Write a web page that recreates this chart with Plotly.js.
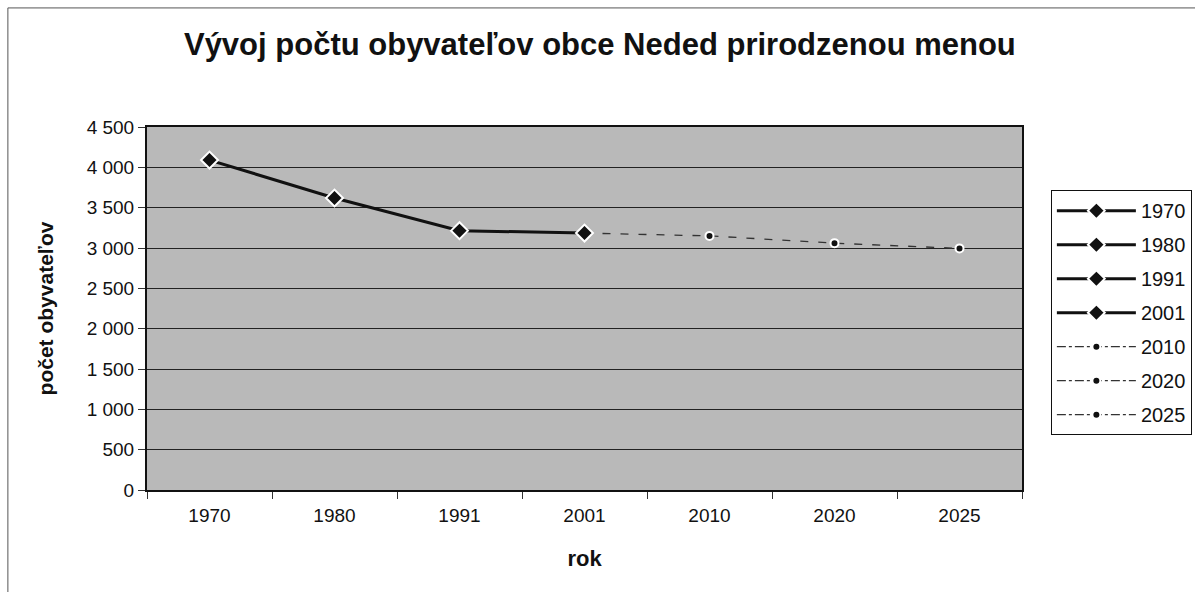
<!DOCTYPE html>
<html><head><meta charset="utf-8">
<script src="https://cdn.plot.ly/plotly-3.0.1.min.js"></script>
<style>html,body{margin:0;padding:0;background:#fff}#chart{width:1195px;height:592px}</style>
</head><body><div id="chart"></div>
<script>
const years = ['1970','1980','1991','2001','2010','2020','2025'];
const population = [4090, 3620, 3215, 3185, 3150, 3060, 2995];
const censusCount = 4; // first four are census values, rest projection

const solidX = years.slice(0, censusCount), solidY = population.slice(0, censusCount);
const dashX = years.slice(censusCount - 1), dashY = population.slice(censusCount - 1);

const traces = [];
traces.push({x: solidX, y: solidY, type:'scatter', mode:'lines', showlegend:false,
  line:{color:'#111', width:3}, hoverinfo:'skip'});
traces.push({x: dashX, y: dashY, type:'scatter', mode:'lines', showlegend:false,
  line:{color:'#333', width:1.3, dash:'8px,10px'}, hoverinfo:'skip'});
years.forEach((yr, i) => {
  const census = i < censusCount;
  traces.push({
    x:[yr], y:[population[i]], type:'scatter', mode:'lines+markers', name: yr,
    legendgroup: yr,
    line: census ? {color:'#111', width:3} : {color:'#333', width:1.2, dash:'dashdot'},
    marker: census ? {symbol:'diamond', size:13, color:'#111', line:{color:'#fff', width:2}}
                   : {symbol:'circle', size:8, color:'#111', line:{color:'#fff', width:2}}
  });
});

const layout = {
  width:1195, height:592,
  margin:{l:147, r:173, t:127, b:102, autoexpand:false},
  paper_bgcolor:'#fff', plot_bgcolor:'#b9b9b9',
  separators:', ',
  font:{family:'Liberation Sans, Arial, sans-serif', color:'#111', size:19},
  title:{text:'<b>Vývoj počtu obyvateľov obce Neded prirodzenou menou</b>',
    font:{size:31, family:'Liberation Sans, Arial, sans-serif', color:'#111'},
    x:0.502, xanchor:'center', y:0.925, yanchor:'middle'},
  xaxis:{type:'category', range:[-0.5, 6.5], showgrid:false, zeroline:false,
    showline:true, linecolor:'#111', linewidth:2, mirror:true,
    ticks:'outside', tickson:'boundaries', ticklen:7, tickcolor:'#333',
    ticklabelstandoff:7,
    tickfont:{size:19}, title:{text:'<b>rok</b>', font:{size:22}, standoff:26}},
  yaxis:{range:[0,4500], dtick:500, tick0:0, separatethousands:true,
    showgrid:true, gridcolor:'#222', gridwidth:1, zeroline:false,
    showline:true, linecolor:'#111', linewidth:2, mirror:true,
    ticks:'outside', ticklen:7, tickcolor:'#333',
    tickfont:{size:19}, title:{text:'<b>počet obyvateľov</b>', font:{size:21}, standoff:27}},
  legend:{x:1.033, xanchor:'left', y:0.826, yanchor:'top', bgcolor:'#fff',
    bordercolor:'#111', borderwidth:1, font:{size:20}, tracegroupgap:5,
    traceorder:'grouped', itemwidth:79},
  shapes:[{type:'rect', xref:'paper', yref:'paper', x0:-0.159, x1:1.21, y0:-0.29, y1:1.328,
    line:{color:'#555', width:1}, fillcolor:'rgba(0,0,0,0)', layer:'below'}],
  showlegend:true
};
Plotly.newPlot('chart', traces, layout, {displayModeBar:false, staticPlot:true});
</script></body></html>
